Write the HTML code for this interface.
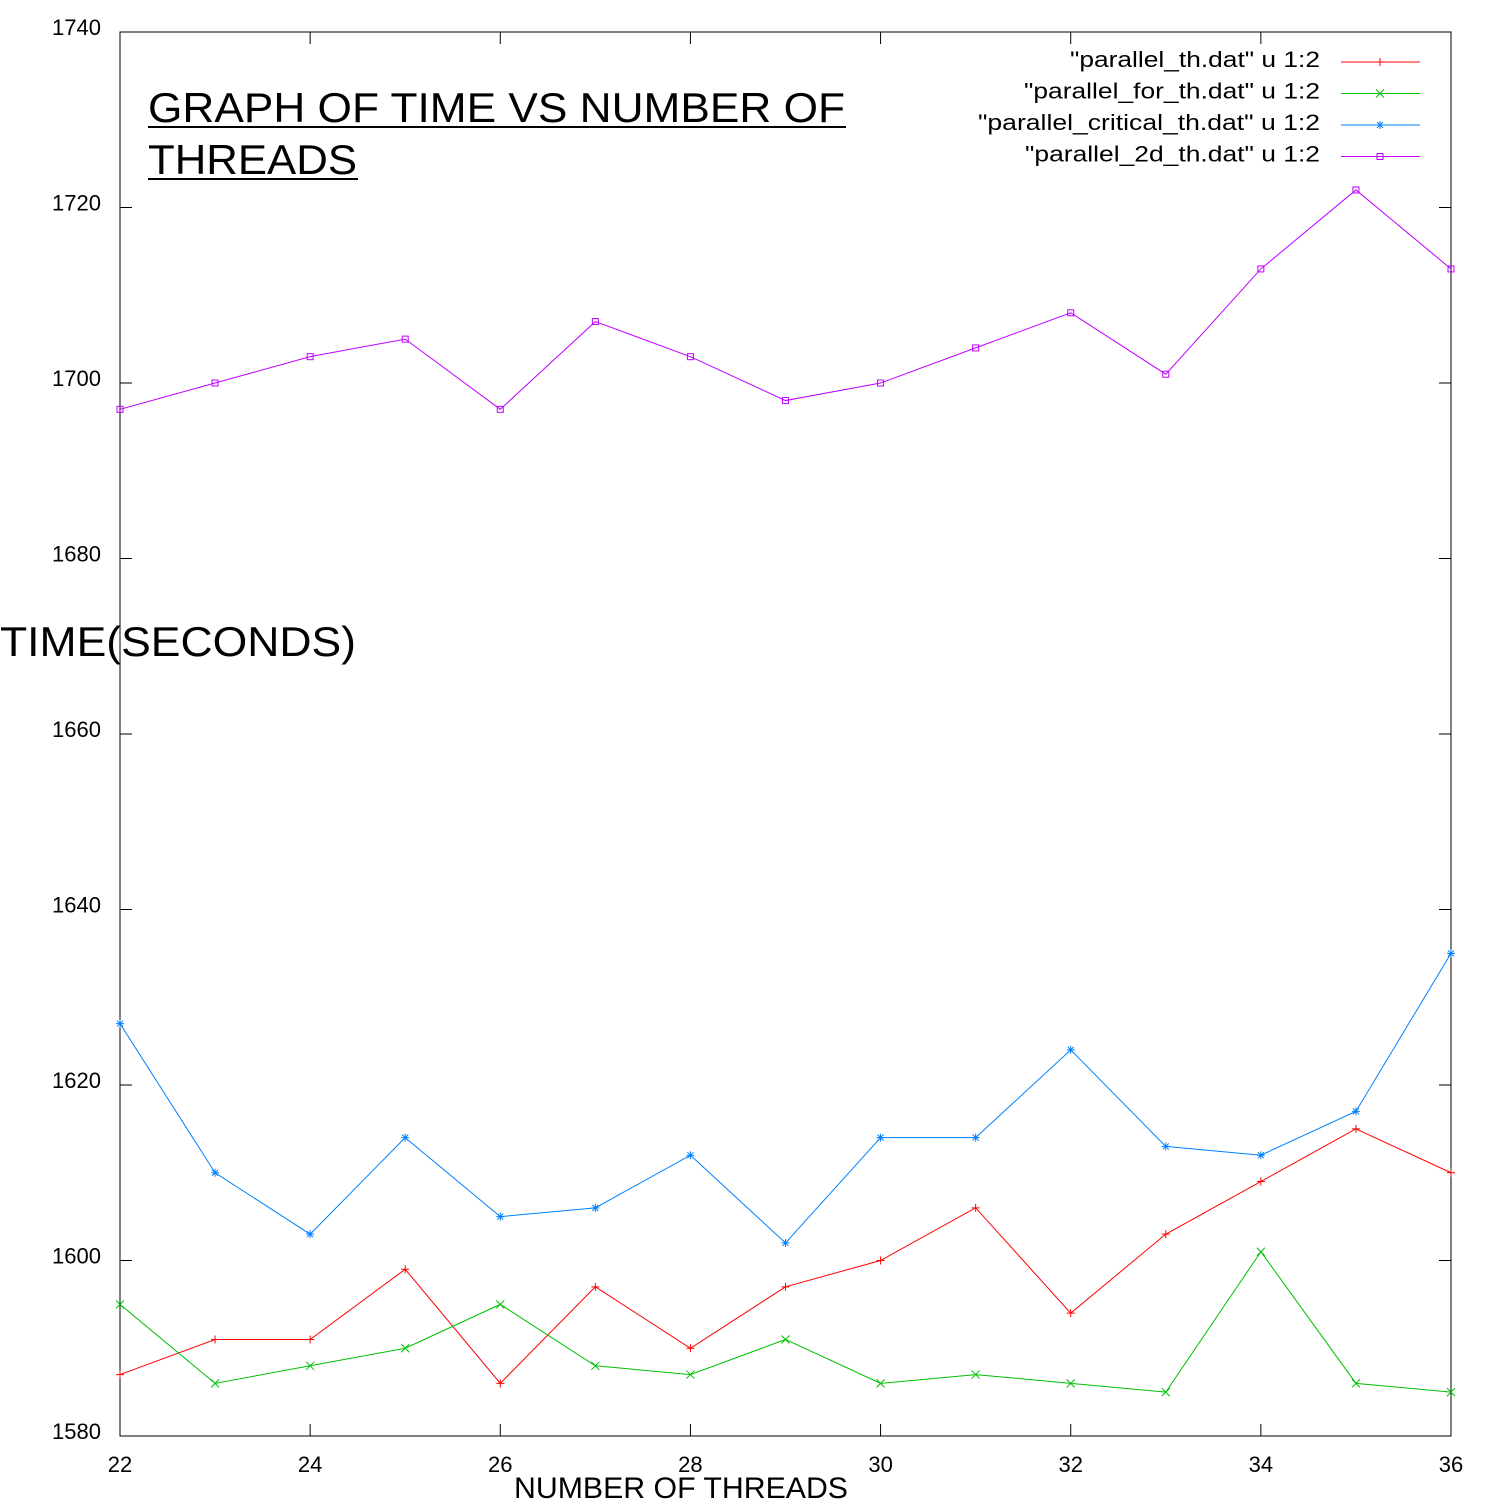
<!DOCTYPE html>
<html><head><meta charset="utf-8"><style>
body{margin:0;background:#fff;}
svg{display:block;font-family:"Liberation Sans",sans-serif;}
</style></head><body>
<svg id="chart" width="1500" height="1500" viewBox="0 0 1500 1500">
<rect x="0" y="0" width="1500" height="1500" fill="#fff"/>
<g id="axes"></g>
<g id="series"></g>
<text x="148" y="122" font-size="42" textLength="697" lengthAdjust="spacingAndGlyphs">GRAPH OF TIME VS NUMBER OF</text>
<text x="148" y="174" font-size="42" textLength="209" lengthAdjust="spacingAndGlyphs">THREADS</text>
<line x1="148" y1="127" x2="846" y2="127" stroke="#000" stroke-width="2"/>
<line x1="148" y1="179" x2="358" y2="179" stroke="#000" stroke-width="2"/>
<text x="0" y="656" font-size="42" textLength="356" lengthAdjust="spacingAndGlyphs">TIME(SECONDS)</text>
<text x="514" y="1498" font-size="30" textLength="334" lengthAdjust="spacingAndGlyphs">NUMBER OF THREADS</text>
<g id="legend"></g>
</svg>
<script>
const xTicks = [22,24,26,28,30,32,34,36];
const yTicks = [1580,1600,1620,1640,1660,1680,1700,1720,1740];
const threads = [22,23,24,25,26,27,28,29,30,31,32,33,34,35,36];
const parallelTh = [1587,1591,1591,1599,1586,1597,1590,1597,1600,1606,1594,1603,1609,1615,1610];
const parallelForTh = [1595,1586,1588,1590,1595,1588,1587,1591,1586,1587,1586,1585,1601,1586,1585];
const parallelCriticalTh = [1627,1610,1603,1614,1605,1606,1612,1602,1614,1614,1624,1613,1612,1617,1635];
const parallel2dTh = [1697,1700,1703,1705,1697,1707,1703,1698,1700,1704,1708,1701,1713,1722,1713];
const seriesNames = ['"parallel_th.dat" u 1:2','"parallel_for_th.dat" u 1:2','"parallel_critical_th.dat" u 1:2','"parallel_2d_th.dat" u 1:2'];
const legendTextWidths = [250,296,342,295];

const L=120,R=1451,T=32,B=1436;
const xs=v=>L+(v-22)/(36-22)*(R-L);
const ys=v=>B-(v-1580)/(1740-1580)*(B-T);
const NS="http://www.w3.org/2000/svg";
function mk(t,a,p){const e=document.createElementNS(NS,t);for(const k in a)e.setAttribute(k,a[k]);p.appendChild(e);return e;}
const ax=document.getElementById('axes');
const frame=mk('rect',{x:L,y:T,width:R-L,height:B-T,fill:'none',stroke:'#000','stroke-width':1},ax);


xTicks.forEach(v=>{
  mk('line',{x1:xs(v),y1:B,x2:xs(v),y2:B-12,stroke:'#000'},ax);
  mk('line',{x1:xs(v),y1:T,x2:xs(v),y2:T+12,stroke:'#000'},ax);
  const t=mk('text',{x:xs(v),y:1472,'font-size':22,'text-anchor':'middle'},ax);
  t.textContent=v;
  
  
});
yTicks.forEach(v=>{
  mk('line',{x1:L,y1:ys(v),x2:L+12,y2:ys(v),stroke:'#000'},ax);
  mk('line',{x1:R,y1:ys(v),x2:R-12,y2:ys(v),stroke:'#000'},ax);
  const t=mk('text',{x:101,y:ys(v)+3,'font-size':22,'text-anchor':'end'},ax);
  t.textContent=v;
  
  
});
const colors=['#ff0000','#00c000','#0080ff','#c000ff'];
const data=[parallelTh,parallelForTh,parallelCriticalTh,parallel2dTh];
const sg=document.getElementById('series');
function marker(k,x,y,g){
  const c=colors[k];
  if(k===0){mk('path',{d:`M${x-4},${y}H${x+4}M${x},${y-4}V${y+4}`,stroke:c,fill:'none'},g);}
  else if(k===1){mk('path',{d:`M${x-4},${y-4}L${x+4},${y+4}M${x-4},${y+4}L${x+4},${y-4}`,stroke:c,fill:'none'},g);}
  else if(k===2){mk('path',{d:`M${x-4},${y}H${x+4}M${x},${y-4}V${y+4}M${x-3},${y-3}L${x+3},${y+3}M${x-3},${y+3}L${x+3},${y-3}`,stroke:c,fill:'none'},g);}
  else {mk('rect',{x:x-3,y:y-3,width:6,height:6,stroke:c,fill:'none'},g);}
}
data.forEach((arr,k)=>{
  const g=mk('g',{},sg);
  
  
  const pts=arr.map((v,i)=>xs(threads[i])+','+ys(v)).join(' ');
  const pl=mk('polyline',{points:pts,fill:'none',stroke:colors[k],'stroke-width':1},g);
  
  
  arr.forEach((v,i)=>marker(k,xs(threads[i]),ys(v),g));
});
const lg=document.getElementById('legend');
seriesNames.forEach((n,k)=>{
  const y=62+k*31.5;
  const t=mk('text',{x:1320,y:y+5,'font-size':22,'text-anchor':'end',textLength:legendTextWidths[k],lengthAdjust:'spacingAndGlyphs'},lg);
  t.textContent=n;
  
  
  mk('line',{x1:1341,y1:y,x2:1420,y2:y,stroke:colors[k]},lg);
  marker(k,1380,y,lg);
});
</script>
</body></html>
